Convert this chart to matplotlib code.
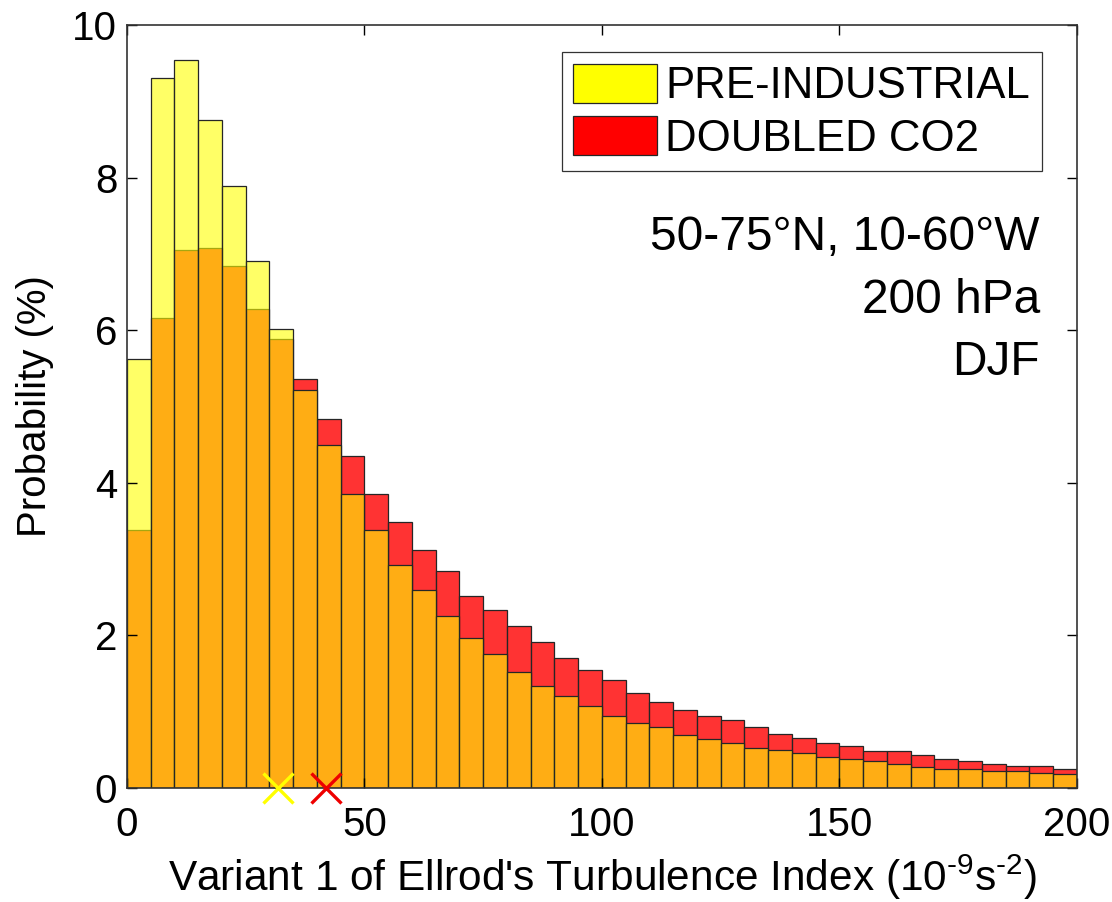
import numpy as np
import matplotlib
matplotlib.use('Agg')
import matplotlib.pyplot as plt
from matplotlib.patches import Patch

plt.rcParams['font.family'] = 'Liberation Sans'
plt.rcParams['mathtext.fontset'] = 'custom'
plt.rcParams['mathtext.rm'] = 'Liberation Sans'
plt.rcParams['mathtext.it'] = 'Liberation Sans'

# bin edges (10^-9 s^-2), 5-unit bins from 0 to 200
bin_edges = np.arange(0, 205, 5)

# probability (%) per bin
pre_industrial = [5.62, 9.30, 9.54, 8.76, 7.89, 6.91, 6.02, 5.22, 4.49, 3.85,
                  3.38, 2.92, 2.60, 2.25, 1.97, 1.76, 1.52, 1.34, 1.21, 1.07,
                  0.95, 0.85, 0.80, 0.69, 0.64, 0.59, 0.53, 0.50, 0.46, 0.41,
                  0.38, 0.36, 0.32, 0.27, 0.25, 0.25, 0.22, 0.22, 0.20, 0.18]
doubled_co2 = [3.38, 6.16, 7.05, 7.08, 6.84, 6.28, 5.89, 5.36, 4.84, 4.35,
               3.85, 3.49, 3.12, 2.84, 2.51, 2.33, 2.12, 1.91, 1.70, 1.55,
               1.42, 1.25, 1.13, 1.02, 0.94, 0.89, 0.80, 0.71, 0.66, 0.59,
               0.55, 0.48, 0.48, 0.43, 0.38, 0.35, 0.32, 0.29, 0.29, 0.25]

# means marked on the x axis
mean_pre = 31.8
mean_co2 = 42.0

series_names = ['PRE-INDUSTRIAL', 'DOUBLED CO2']
info_lines = ['50-75\u00b0N, 10-60\u00b0W', '200 hPa', 'DJF']

fig = plt.figure(figsize=(11.12, 9.02), dpi=100)
ax = fig.add_axes([0.1142, 0.1264, 0.8543, 0.8459])

left = bin_edges[:-1]
width = np.diff(bin_edges)
edge = '#262626'

# red first, yellow drawn over it -> overlap shows orange
ax.bar(left, doubled_co2, width=width, align='edge', color=(1, 0, 0, 0.8),
       edgecolor=edge, linewidth=0.9)
ax.bar(left, pre_industrial, width=width, align='edge', color=(1, 1, 0, 0.6),
       edgecolor=edge, linewidth=0.9)

ax.plot([mean_pre], [0], 'x', color='#ffff00', markersize=21, mew=2.4, clip_on=False, zorder=5)
ax.plot([mean_co2], [0], 'x', color='#ee0000', markersize=21, mew=2.4, clip_on=False, zorder=5)

ax.set_xlim(0, 200)
ax.set_ylim(0, 10)
ax.set_xticks([0, 50, 100, 150, 200])
ax.set_yticks([0, 2, 4, 6, 8, 10])
ax.tick_params(direction='in', length=7, width=1, top=True, right=True,
               labelsize=29, colors='black')
ax.tick_params(axis='x', pad=13)
ax.tick_params(axis='y', pad=7)
for s in ax.spines.values():
    s.set_color('#333333')
    s.set_linewidth(1.2)

ax.set_xlabel(r"Variant 1 of Ellrod's Turbulence Index (10$^{\text{-9}}$s$^{\text{-2}}$)",
              fontsize=30.5, labelpad=6)
ax.set_ylabel('Probability (%)', fontsize=29, labelpad=13)

handles = [Patch(facecolor='#ffff00', edgecolor=edge, linewidth=0.9),
           Patch(facecolor='#ff0000', edgecolor=edge, linewidth=0.9)]
leg = ax.legend(handles, series_names, loc='upper right',
                bbox_to_anchor=(0.963, 0.9646), borderaxespad=0,
                fontsize=31.5, fancybox=False, framealpha=1, edgecolor='#333333',
                handlelength=1.9, handleheight=1.0, handletextpad=0.2,
                borderpad=0.27, labelspacing=0.2)
leg.get_frame().set_linewidth(0.9)

for i, line in enumerate(info_lines):
    ax.text(0.961, 0.705 - i * 0.082, line, transform=ax.transAxes,
            ha='right', va='baseline', fontsize=34.5)

fig.savefig('out.png', dpi=100)
